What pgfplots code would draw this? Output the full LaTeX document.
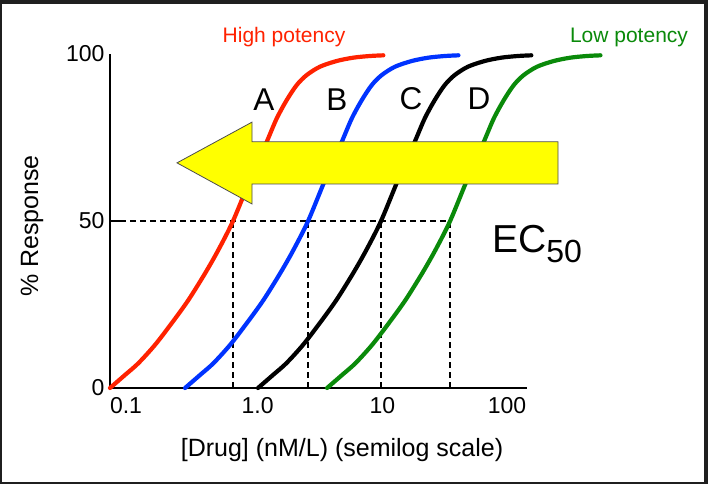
\documentclass[border=0pt]{standalone}
\usepackage{fontspec}
\setmainfont{Liberation Sans}
\usepackage{pgfplots}
\pgfplotsset{compat=1.18}
\definecolor{cred}{HTML}{FF2200}
\definecolor{cblue}{HTML}{0033FF}
\definecolor{cgreen}{HTML}{0A8A0A}
\definecolor{cframe}{HTML}{1F1F1F}
\definecolor{cyellow}{HTML}{FFFF00}
\begin{document}
\begin{tikzpicture}[x=1bp,y=1bp]
\fill[cframe] (0,0) rectangle (708,484);
\fill[white] (2,2) rectangle (704,480);
\begin{axis}[
  at={(110bp,96bp)}, anchor=south west,
  scale only axis, width=417bp, height=334bp,
  xmode=log, xmin=0.0654, xmax=144.5, ymin=0, ymax=100,
  axis lines=left, axis line style={-, line width=2.6bp, black},
  clip=false,
  xtick={0.1,1,10,100},
  xticklabels={{0.1\hspace*{14bp}},{1.0},{10},{100}},
  xminorticks=false,
  ytick={0,100},
  extra y ticks={50},
  extra tick style={major tick length=10bp, tick align=inside, tick style={line width=1.5bp, black}},
  major tick length=0pt,
  tick label style={font=\fontsize{23bp}{26bp}\selectfont},
  /pgf/number format/assume math mode=true,
  xticklabel style={yshift=-6bp},
  yticklabel style={xshift=-2bp},
  every axis plot/.append style={line join=round, line cap=round},
]
% EC50 guide lines
\addplot[black, line width=1.8bp, dash pattern=on 6bp off 4bp, line cap=butt] coordinates {(0.0654,50) (34.926,50)};
\addplot[black, line width=1.8bp, dash pattern=on 6bp off 4bp, line cap=butt] coordinates {(0.6341,0) (0.6341,50)};
\addplot[black, line width=1.8bp, dash pattern=on 6bp off 4bp, line cap=butt] coordinates {(2.5364,0) (2.5364,50)};
\addplot[black, line width=1.8bp, dash pattern=on 6bp off 4bp, line cap=butt] coordinates {(9.7525,0) (9.7525,50)};
\addplot[black, line width=1.8bp, dash pattern=on 6bp off 4bp, line cap=butt] coordinates {(34.926,0) (34.926,50)};
% A (red)
\addplot[cred, line width=4.2bp, smooth, tension=0.5] coordinates {
(0.0654,0) (0.08627,3.9) (0.11027,7.4) (0.15014,12.9) (0.20436,19.4) (0.27772,26.3)
(0.37802,34.3) (0.48333,41.3) (0.6341,50) (0.8680,62.3) (1.1814,73.7) (1.4210,80.7)
(1.7096,86.2) (2.0563,90.7) (2.4734,93.7) (3.1623,96.2) (4.3040,97.9) (5.8495,98.9)
(7.9617,99.4) (10.179,99.6)};
% B (blue)
\addplot[cblue, line width=4.2bp, smooth, tension=0.5] coordinates {
(0.2616,0) (0.3451,3.9) (0.4411,7.4) (0.6006,12.9) (0.8174,19.4) (1.1109,26.3)
(1.5121,34.3) (1.9333,41.3) (2.5364,50) (3.472,62.3) (4.7256,73.7) (5.684,80.7)
(6.8384,86.2) (8.2252,90.7) (9.8936,93.7) (12.649,96.2) (17.216,97.9) (23.398,98.9)
(31.847,99.4) (40.716,99.6)};
% C (black)
\addplot[black, line width=4.2bp, smooth, tension=0.5] coordinates {
(1.0059,0) (1.3268,3.9) (1.6960,7.4) (2.3092,12.9) (3.1431,19.4) (4.2713,26.3)
(5.8139,34.3) (7.4336,41.3) (9.7525,50) (13.350,62.3) (18.170,73.7) (21.855,80.7)
(26.294,86.2) (31.626,90.7) (38.041,93.7) (48.636,96.2) (66.196,97.9) (89.965,98.9)
(122.45,99.4) (156.55,99.6)};
% D (green)
\addplot[cgreen, line width=4.2bp, smooth, tension=0.5] coordinates {
(3.602,0) (4.7518,3.9) (6.0737,7.4) (8.2697,12.9) (11.256,19.4) (15.297,26.3)
(20.821,34.3) (26.622,41.3) (34.926,50) (47.809,62.3) (65.072,73.7) (78.269,80.7)
(94.165,86.2) (113.26,90.7) (136.24,93.7) (174.18,96.2) (237.06,97.9) (322.19,98.9)
(438.53,99.4) (560.66,99.6)};
% arrow
\draw[draw=black!70, line width=0.8bp, fill=cyellow]
 (axis cs:0.2254,67.4) -- (axis cs:0.9006,79.6) -- (axis cs:0.9006,73.7)
 -- (axis cs:256.4,73.7) -- (axis cs:256.4,61.1) -- (axis cs:0.9006,61.1)
 -- (axis cs:0.9006,55.1) -- cycle;
\end{axis}
\node[text=cred, font=\fontsize{21bp}{24bp}\selectfont] at (284,447) {High potency};
\node[text=cgreen, font=\fontsize{21bp}{24bp}\selectfont] at (629,447) {Low potency};
\node[font=\fontsize{31.5bp}{36bp}\selectfont] at (264,384) {A};
\node[font=\fontsize{31.5bp}{36bp}\selectfont] at (337,384) {B};
\node[font=\fontsize{31.5bp}{36bp}\selectfont] at (411,385) {C};
\node[font=\fontsize{31.5bp}{36bp}\selectfont] at (479,385) {D};
\node[anchor=base west, inner sep=0pt, font=\fontsize{39bp}{44bp}\selectfont] at (492,231)
 {EC\raisebox{-10bp}{\fontsize{32bp}{36bp}\selectfont 50}};
\node[rotate=90, font=\fontsize{25bp}{28bp}\selectfont] at (32,258) {\% Response};
\node[anchor=base, font=\fontsize{25bp}{28bp}\selectfont] at (342,27) {[Drug] (nM/L) (semilog scale)};
\end{tikzpicture}
\end{document}
